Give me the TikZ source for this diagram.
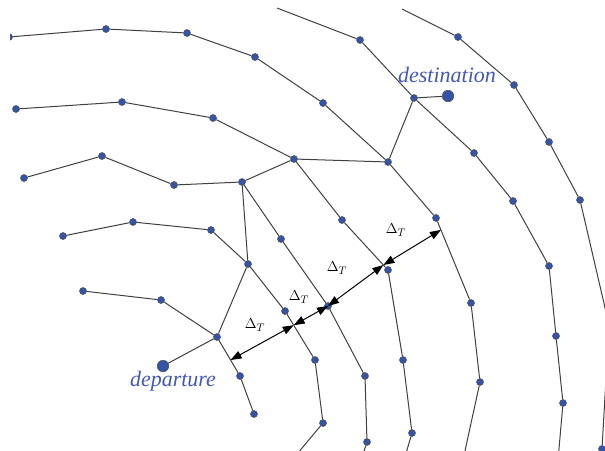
\documentclass[tikz,border=0pt]{standalone}
\usepackage{fontspec}
\setmainfont{Liberation Serif}
\definecolor{stopblue}{RGB}{52, 84, 168}
\definecolor{labelblue}{RGB}{68, 88, 182}
\usepackage{tikz}
\usepackage{amsmath}
\usetikzlibrary{arrows.meta, positioning, calc}

\tikzset{
    stopdot/.style={circle, draw=black!70, fill=stopblue, line width=0.5pt, inner sep=0pt, minimum size=7pt},
    enddot/.style={stopdot, minimum size=11.5pt},
    road/.style={draw=black!75, line width=1pt},
    gaparrow/.style={{Triangle[length=11pt,width=8pt]}-{Triangle[length=11pt,width=8pt]}, line width=1pt},
    placelabel/.style={text=labelblue, font=\fontsize{22}{25}\selectfont\itshape},
    deltalabel/.style={font=\fontsize{15}{17}\selectfont}
}

\begin{document}
\begin{tikzpicture}[x=1pt, y=-1pt]
    \useasboundingbox (0,0) rectangle (605,450);
    \clip (10,0) rectangle (605,450);

    % stops on each isochrone
    \foreach \n/\x/\y in {o1/458/37, o2/514/85, o3/549/142, o4/580/200, o5/602/449,
        a1/360/40, d/414/98, a2/474/153, a3/513/201, a4/549/266, a5/556/336, a6/563/403,
        b0/9/37, b1/106/29, b2/187/33, b3/255/57, b4/323/103, b5/388/162, b6/436/218, b7/471/303, b8/480/382,
        c0/16/109, c1/122/102, c2/213/118, c3/294/159, c4/342/220, c5/388/270, c6/403/360, c7/412/433,
        e0/24/178, e1/102/156, e2/174/185, e3/242/182, e4/281/239, e5/328/306, e6/365/376, e7/367/442,
        f0/63/236, f1/133/222, f2/211/230, f3/248/264, f4/285/311, f5/315/360, f6/323/423,
        g0/83/291, g1/161/300, g2/217/337, g3/240/376, g4/254/414}
        \node[stopdot] (\n) at (\x,\y) {};
    \node[enddot] (dest) at (448,96) {};
    \node[enddot] (dep) at (163,366) {};

    % free ends
    \coordinate (o0) at (402,9);
    \coordinate (oh) at (609,325);
    \coordinate (a0) at (277,8);
    \coordinate (a9) at (558,460);
    \coordinate (b9) at (463,460);
    \coordinate (c9) at (404,460);
    \coordinate (e9) at (361,460);
    \coordinate (f9) at (292,460);

    \draw[road] (o0) -- (o1) -- (o2) -- (o3) -- (o4) -- (oh) -- (o5);
    \draw[road] (a0) -- (a1) -- (d) -- (a2) -- (a3) -- (a4) -- (a5) -- (a6) -- (a9);
    \draw[road] (b0) -- (b1) -- (b2) -- (b3) -- (b4) -- (b5) -- (b6) -- (b7) -- (b8) -- (b9);
    \draw[road] (c0) -- (c1) -- (c2) -- (c3) -- (c4) -- (c5) -- (c6) -- (c7) -- (c9);
    \draw[road] (e0) -- (e1) -- (e2) -- (e3) -- (e4) -- (e5) -- (e6) -- (e7) -- (e9);
    \draw[road] (f0) -- (f1) -- (f2) -- (f3) -- (f4) -- (f5) -- (f6) -- (f9);
    \draw[road] (g0) -- (g1) -- (g2) -- (g3) -- (g4);

    % shortest path tree
    \draw[road] (dep) -- (g2) -- (f3) -- (e3) -- (c3) -- (b5) -- (d) -- (dest);

    % spacing between isochrones
    \coordinate (t1) at ($(g2)!0.59!(g3)$);
    \coordinate (t2) at ($(f4)!0.29!(f5)$);
    \coordinate (t3) at (e5.center);
    \coordinate (t4) at ($(c4)!0.9!(c5)$);
    \coordinate (t5) at ($(b6)!0.14!(b7)$);
    \draw[gaparrow] (t1) -- (t2);
    \draw[gaparrow] (t2) -- (t3);
    \draw[gaparrow] (t3) -- (t4);
    \draw[gaparrow] (t4) -- (t5);
    \node[deltalabel] (dt1) at (255,325) {$\Delta_T$};
    \node[deltalabel] (dt2) at (299,297) {$\Delta_T$};
    \node[deltalabel] (dt3) at (337,268) {$\Delta_T$};
    \node[deltalabel] (dt4) at (396,230) {$\Delta_T$};

    \node[placelabel] (destlabel) at (447,75) {destination};
    \node[placelabel] (deplabel) at (173,381) {departure};
\end{tikzpicture}
\end{document}
